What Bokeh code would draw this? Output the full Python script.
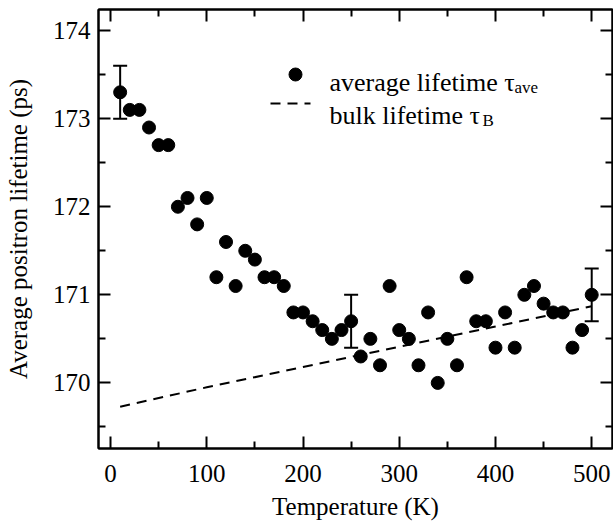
from bokeh.plotting import figure
from bokeh.models import (Range1d, LinearAxis, ColumnDataSource, Whisker, TeeHead,
                          FixedTicker, Label)
from bokeh.embed import file_html
from bokeh.resources import INLINE

# ---- data ----
temperature = [10, 20, 30, 40, 50, 60, 70, 80, 90, 100,
               110, 120, 130, 140, 150, 160, 170, 180, 190, 200,
               210, 220, 230, 240, 250, 260, 270, 280, 290, 300,
               310, 320, 330, 340, 350, 360, 370, 380, 390, 400,
               410, 420, 430, 440, 450, 460, 470, 480, 490, 500]
tau_ave = [173.3, 173.1, 173.1, 172.9, 172.7, 172.7, 172.0, 172.1, 171.8, 172.1,
           171.2, 171.6, 171.1, 171.5, 171.4, 171.2, 171.2, 171.1, 170.8, 170.8,
           170.7, 170.6, 170.5, 170.6, 170.7, 170.3, 170.5, 170.2, 171.1, 170.6,
           170.5, 170.2, 170.8, 170.0, 170.5, 170.2, 171.2, 170.7, 170.7, 170.4,
           170.8, 170.4, 171.0, 171.1, 170.9, 170.8, 170.8, 170.4, 170.6, 171.0]
err_T = [10, 250, 500]
err_tau = [173.3, 170.7, 171.0]
err_size = [0.3, 0.3, 0.3]
bulk_T = [10, 100, 200, 300, 400, 500]
bulk_tau = [169.73, 169.95, 170.18, 170.41, 170.64, 170.87]

x_ticks = [0, 100, 200, 300, 400, 500]
y_ticks = [170, 171, 172, 173, 174]
x_minor = [50, 150, 250, 350, 450]
y_minor = [169.5, 170.5, 171.5, 172.5, 173.5]

FONT = "Liberation Serif, Times New Roman, Times, serif"
FS = "25px"
LEG_FS = "26px"
FRAME_W, FRAME_H = 514, 439

p = figure(width=613, height=528, output_backend="svg", toolbar_location=None,
           x_range=Range1d(-12.5, 521.6), y_range=Range1d(169.255, 174.24),
           x_axis_label="Temperature (K)",
           y_axis_label="Average positron lifetime (ps)",
           min_border_left=98, min_border_right=1, min_border_top=9,
           min_border_bottom=80)
p.xgrid.visible = False
p.ygrid.visible = False
p.outline_line_color = "black"
p.outline_line_width = 2
p.background_fill_color = "white"
p.border_fill_color = "white"

p.extra_x_ranges = {"px": Range1d(0, FRAME_W)}
p.extra_y_ranges = {"px": Range1d(FRAME_H, 0)}


def style_axis(ax, labels=True):
    ax.axis_line_width = 2
    ax.axis_line_color = "black"
    ax.major_tick_in = 12
    ax.major_tick_out = 0
    ax.minor_tick_in = 7
    ax.minor_tick_out = 0
    ax.major_tick_line_width = 2
    ax.minor_tick_line_width = 2
    ax.major_tick_line_color = "black"
    ax.minor_tick_line_color = "black"
    ax.major_label_text_font = FONT
    ax.axis_label_text_font = FONT
    ax.axis_label_text_font_size = FS
    ax.axis_label_text_font_style = "normal"
    ax.axis_label_text_color = "black"
    if labels:
        ax.major_label_text_font_size = FS
        ax.major_label_text_color = "black"
    else:
        ax.major_label_text_font_size = "0px"
        ax.major_label_text_color = None
        ax.major_label_standoff = 0


p.xaxis.ticker = FixedTicker(ticks=x_ticks, minor_ticks=x_minor)
p.yaxis.ticker = FixedTicker(ticks=y_ticks, minor_ticks=y_minor)
for ax in p.xaxis + p.yaxis:
    style_axis(ax)
p.xaxis.major_label_standoff = 16
p.yaxis.major_label_standoff = 8
p.xaxis.axis_label_standoff = 8
p.yaxis.axis_label_standoff = 18

top = LinearAxis(ticker=FixedTicker(ticks=x_ticks, minor_ticks=x_minor))
right = LinearAxis(ticker=FixedTicker(ticks=y_ticks, minor_ticks=y_minor))
style_axis(top, labels=False)
style_axis(right, labels=False)
p.add_layout(top, "above")
p.add_layout(right, "right")

# bulk lifetime (dashed)
p.line(bulk_T, bulk_tau, line_color="black", line_width=2, line_dash="10 7")

# error bars
esrc = ColumnDataSource(dict(x=err_T,
                             upper=[t + e for t, e in zip(err_tau, err_size)],
                             lower=[t - e for t, e in zip(err_tau, err_size)]))
p.add_layout(Whisker(base="x", upper="upper", lower="lower", source=esrc,
                     line_width=2, line_color="black",
                     upper_head=TeeHead(size=14, line_width=2, line_color="black"),
                     lower_head=TeeHead(size=14, line_width=2, line_color="black")))

# average lifetime points
p.scatter(temperature, tau_ave, size=13, color="black")

# ---- legend (frame-pixel coordinates) ----
p.scatter(x=[197], y=[65], size=13, color="black",
          x_range_name="px", y_range_name="px")
p.line(x=[172, 212], y=[94, 94], line_color="black", line_width=2,
       line_dash="10 7", x_range_name="px", y_range_name="px")


def lab(x, y, text, size=LEG_FS):
    p.add_layout(Label(x=x, y=y, text=text, x_range_name="px", y_range_name="px",
                       text_font=FONT, text_font_size=size, text_color="black",
                       text_baseline="alphabetic", text_align="left"))


lab(231, 73, "average lifetime τ")
lab(416, 78, "ave", "17px")
lab(231, 106, "bulk lifetime τ")
lab(384, 111, "B", "17px")

open("out.html", "w").write(file_html(p, INLINE))
